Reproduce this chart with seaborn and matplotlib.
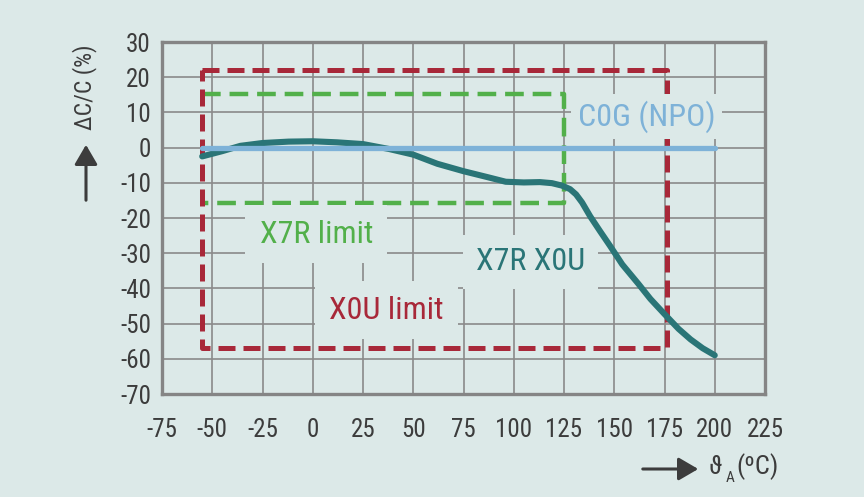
import numpy as np
import pandas as pd
import matplotlib
matplotlib.use("Agg")
import matplotlib.pyplot as plt
import seaborn as sns

# ---- data ----
temps = [-55, -45, -36, -25, -12, 0, 12, 25, 38, 50, 62, 75, 87, 96, 105, 113,
         119, 124, 128, 131, 134, 138, 143, 148, 154, 162, 168, 175, 182, 188,
         194, 200]
x7r_x0u = [-2.5, -1.0, 0.5, 1.3, 1.7, 1.8, 1.5, 1.0, -0.4, -2.0, -4.6, -6.7,
           -8.4, -9.7, -9.9, -9.8, -10.1, -10.8, -11.8, -13.3, -15.6, -19.5,
           -23.8, -28.0, -33.2, -38.7, -43.0, -47.3, -51.5, -54.5, -57.0, -59.0]
c0g_temps = [-55, 200]
c0g_vals = [0, 0]
x7r_temp_range = [-55, 125]
x7r_limits = [15.3, -15.8]
x0u_temp_range = [-55, 176]
x0u_limits = [22, -57]
xticks = [-75, -50, -25, 0, 25, 50, 75, 100, 125, 150, 175, 200, 225]
yticks = [30, 20, 10, 0, -10, -20, -30, -40, -50, -60, -70]

BG = "#dce9e8"
RED = "#a82839"
GREEN = "#52b04a"
TEAL = "#2a7577"
BLUE = "#7eb2d8"
GRID = "#8a8a8a"
FRAME = "#858585"
TXT = "#3c3c3c"

sns.set_theme(style="white")
FAM = ["Roboto Condensed", "Archivo Narrow", "Barlow Semi Condensed", "DejaVu Sans"]
plt.rcParams["font.family"] = FAM

fig = plt.figure(figsize=(8.64, 4.97), dpi=100, facecolor=BG)
ax = fig.add_axes([162/864, 1-394/497, (765-162)/864, (394-42)/497])
ax.set_facecolor(BG)

ax.set_xlim(-75, 225)
ax.set_ylim(-70, 30)
ax.set_xticks(xticks)
ax.set_yticks(yticks)
ax.set_xticklabels([str(v) for v in xticks])
ax.set_yticklabels([str(v) for v in yticks])
ax.tick_params(axis="both", length=0, labelsize=18, colors=TXT)
ax.tick_params(axis="x", pad=17)
ax.tick_params(axis="y", pad=8)
ax.grid(True, color=GRID, linewidth=1.2, zorder=0)
ax.set_axisbelow(True)
for s in ax.spines.values():
    s.set_visible(True)
    s.set_color(FRAME)
    s.set_linewidth(2.4)

# X7R limit (green) - left side hidden under red
gx = [x7r_temp_range[0], x7r_temp_range[1], x7r_temp_range[1], x7r_temp_range[0]]
gy = [x7r_limits[0], x7r_limits[0], x7r_limits[1], x7r_limits[1]]
ax.plot(gx, gy, color=GREEN, linewidth=3.2, dashes=(4.2, 2.0), zorder=2,
        dash_capstyle="butt")

# X0U limit (red)
rx = [x0u_temp_range[0], x0u_temp_range[1], x0u_temp_range[1], x0u_temp_range[0], x0u_temp_range[0]]
ry = [x0u_limits[0], x0u_limits[0], x0u_limits[1], x0u_limits[1], x0u_limits[0]]
ax.plot(rx, ry, color=RED, linewidth=3.6, dashes=(3.4, 1.6), zorder=3,
        dash_capstyle="butt")

df_curve = pd.DataFrame({"T": temps, "dC": x7r_x0u})
sns.lineplot(data=df_curve, x="T", y="dC", ax=ax, color=TEAL, linewidth=4.4,
             zorder=4, sort=False)
df_c0g = pd.DataFrame({"T": c0g_temps, "dC": c0g_vals})
sns.lineplot(data=df_c0g, x="T", y="dC", ax=ax, color=BLUE, linewidth=3.8,
             zorder=5, sort=False)
ax.set_xlabel("")
ax.set_ylabel("")

def box(p):
    return dict(facecolor=BG, edgecolor="none", boxstyle=f"square,pad={p}")

ax.text(166, 8.9, "C0G (NPO)", color=BLUE, fontsize=23, ha="center",
        va="center", bbox=box(0.2), zorder=6)
ax.text(1.8, -24.6, "X7R limit", color=GREEN, fontsize=23, ha="center",
        va="center", bbox=box(0.45), zorder=6)
ax.text(108.4, -32.5, "X7R X0U", color=TEAL, fontsize=23, ha="center",
        va="center", bbox=box(0.4), zorder=6)
ax.text(36.6, -46.2, "X0U limit", color=RED, fontsize=23, ha="center",
        va="center", bbox=box(0.45), zorder=6)

# Y axis label with upward arrow
fig.text(85/864, 1-87/497, "ΔC/C (%)", rotation=90, fontsize=17, color=TXT,
         ha="center", va="center")
fig.patches.append(matplotlib.patches.FancyArrowPatch(
    (86/864, 1-203/497), (86/864, 1-142/497), transform=fig.transFigure,
    arrowstyle="-|>,head_length=6,head_width=3.5", color=TXT, linewidth=2.2,
    mutation_scale=2))

# X axis label with right arrow
fig.patches.append(matplotlib.patches.FancyArrowPatch(
    (640/864, 1-469/497), (701/864, 1-469/497), transform=fig.transFigure,
    arrowstyle="-|>,head_length=6,head_width=3.5", color=TXT, linewidth=2.2,
    mutation_scale=2))
fig.text(709/864, 1-467/497, "ϑ", fontsize=19, color=TXT, ha="left",
         va="center")
fig.text(726/864, 1-478/497, "A", fontsize=11, color=TXT, ha="left",
         va="center")
fig.text(736/864, 1-467/497, "(ºC)", fontsize=19, color=TXT, ha="left",
         va="center")

fig.savefig("out.png", dpi=100, facecolor=BG)
